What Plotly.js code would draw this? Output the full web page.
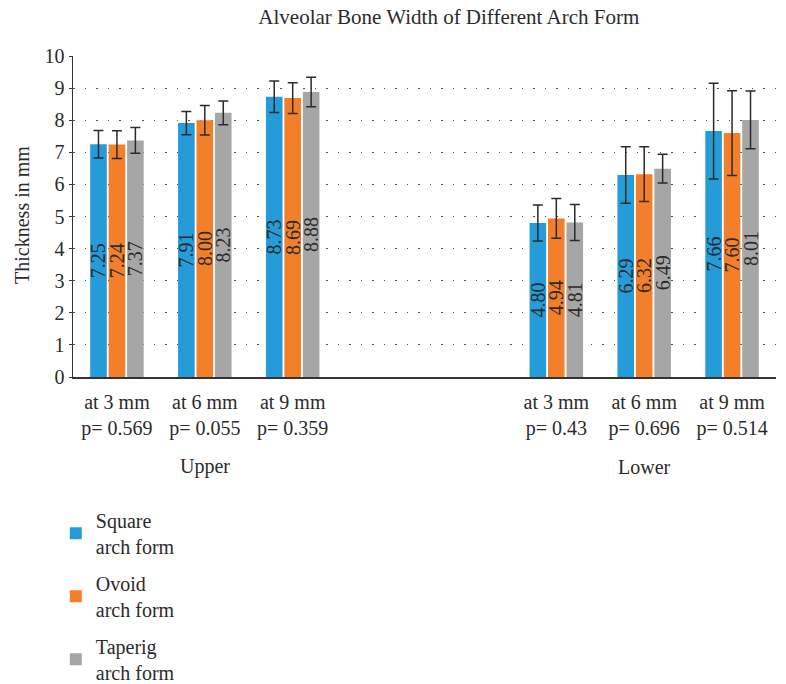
<!DOCTYPE html>
<html>
<head>
<meta charset="utf-8">
<script src="https://cdn.plot.ly/plotly-3.0.1.min.js"></script>
<style>
  html, body { margin: 0; padding: 0; background: #fff; }
  #chart { width: 786px; height: 684px; }
</style>
</head>
<body>
<div id="chart"></div>
<script>
// Measurement sites and jaws
const jaws = ['Upper', 'Lower'];
const sites = ['at 3 mm', 'at 6 mm', 'at 9 mm'];
// p-values per jaw, per site
const pUpper = ['0.569', '0.055', '0.359'];
const pLower = ['0.43', '0.696', '0.514'];

// Mean thickness (mm): Upper 3/6/9 mm, then Lower 3/6/9 mm
const squareMean = [7.25, 7.91, 8.73, 4.80, 6.29, 7.66];
const ovoidMean  = [7.24, 8.00, 8.69, 4.94, 6.32, 7.60];
const taperMean  = [7.37, 8.23, 8.88, 4.81, 6.49, 8.01];

// Standard deviations (error bars)
const squareSD = [0.43, 0.36, 0.49, 0.56, 0.88, 1.49];
const ovoidSD  = [0.43, 0.46, 0.48, 0.62, 0.85, 1.32];
const taperSD  = [0.40, 0.37, 0.46, 0.56, 0.45, 0.90];

const seriesNames = ['Square<br>arch form', 'Ovoid<br>arch form', 'Taperig<br>arch form'];
const seriesColors = ['#259cd8', '#f47f2b', '#a6a6a6'];

const FONT = 'Liberation Serif, Times New Roman, serif';
const INK = '#2b2b2b';
const FS = 20;

// Two empty slots separate the Upper and Lower groups on the axis
const GROUP_STRIDE = sites.length + 2;
const xPos = [];
const tickText = [];
jaws.forEach((jaw, j) => {
  const pv = j === 0 ? pUpper : pLower;
  sites.forEach((s, i) => {
    xPos.push(j * GROUP_STRIDE + i);
    tickText.push(s + '<br>p= ' + pv[i]);
  });
});

const means = [squareMean, ovoidMean, taperMean];
const sds = [squareSD, ovoidSD, taperSD];

const traces = means.map((m, k) => ({
  type: 'bar',
  name: seriesNames[k],
  legendgroup: 'g' + k,
  x: xPos,
  y: m,
  marker: { color: seriesColors[k] },
  text: m.map(v => v.toFixed(2)),
  textposition: 'inside',
  insidetextanchor: 'middle',
  textangle: -90,
  constraintext: 'none',
  textfont: { family: FONT, size: FS, color: INK },
  error_y: { type: 'data', array: sds[k], visible: true, color: INK, thickness: 1.5, width: 5 },
  hoverinfo: 'skip'
}));

// Group labels under the tick labels
const annotations = jaws.map((jaw, j) => ({
  text: jaw,
  x: j * GROUP_STRIDE + 1,
  xref: 'x',
  y: -0.28,
  yref: 'paper',
  xanchor: 'center',
  yanchor: 'middle',
  showarrow: false,
  font: { family: FONT, size: FS, color: INK }
}));

// Y-axis title, drawn as a rotated annotation left of the tick labels
annotations.push({
  text: 'Thickness in mm',
  textangle: -90,
  x: -0.0725,
  xref: 'paper',
  y: 0.505,
  yref: 'paper',
  xanchor: 'center',
  yanchor: 'middle',
  showarrow: false,
  font: { family: FONT, size: FS, color: INK }
});

const layout = {
  width: 786,
  height: 684,
  margin: { l: 73, r: 10, t: 56, b: 307, autoexpand: false },
  paper_bgcolor: '#ffffff',
  plot_bgcolor: '#ffffff',
  font: { family: FONT, size: FS, color: INK },
  title: {
    text: 'Alveolar Bone Width of Different Arch Form',
    x: 0.571,
    xanchor: 'center',
    y: 0.975,
    yanchor: 'middle',
    font: { family: FONT, size: 21, color: INK }
  },
  barmode: 'group',
  bargap: 0.37,
  bargroupgap: 0.1,
  showlegend: true,
  legend: {
    orientation: 'v',
    x: 0.071,
    xref: 'container',
    xanchor: 'left',
    y: 0.268,
    yref: 'container',
    yanchor: 'top',
    traceorder: 'grouped',
    tracegroupgap: 8,
    font: { family: FONT, size: FS, color: INK },
    bgcolor: 'rgba(0,0,0,0)'
  },
  xaxis: {
    range: [-0.5, 2 * GROUP_STRIDE - 2 - 0.5],
    tickmode: 'array',
    tickvals: xPos,
    ticktext: tickText,
    showgrid: false,
    zeroline: false,
    showline: true,
    linecolor: '#333',
    linewidth: 2,
    ticks: 'outside',
    ticklen: 6,
    tickcolor: 'rgba(0,0,0,0)',
    tickfont: { family: FONT, size: FS, color: INK },
    fixedrange: true
  },
  yaxis: {
    range: [0, 10],
    dtick: 1,
    tick0: 0,
    showgrid: true,
    gridcolor: '#555',
    gridwidth: 1,
    griddash: '1.5px,10px',
    zeroline: false,
    showline: true,
    linecolor: '#333',
    linewidth: 1.5,
    ticks: 'outside',
    ticklen: 3,
    tickcolor: '#333',
    tickfont: { family: FONT, size: FS, color: INK },
    fixedrange: true
  },
  annotations: annotations
};

Plotly.newPlot('chart', traces, layout, { displayModeBar: false, staticPlot: true });
</script>
</body>
</html>
